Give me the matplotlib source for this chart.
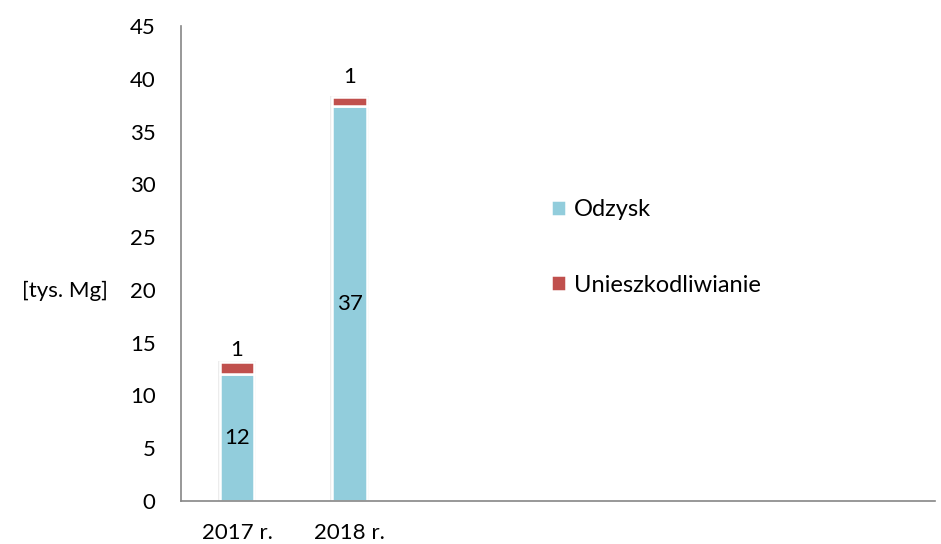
import numpy as np
import matplotlib.pyplot as plt

plt.rcParams['font.family'] = ['Lato', 'DejaVu Sans']

# dane
lata = ['2017 r.', '2018 r.']
odzysk = [12.0, 37.4]
unieszkodliwianie = [1.2, 0.9]
etykiety_odzysk = ['12', '37']
etykiety_unieszk = ['1', '1']

kolor_odzysk = '#92CDDC'
kolor_unieszk = '#C0504D'

fig = plt.figure(figsize=(9.41, 5.44), dpi=100)
ax = fig.add_axes([0.192, 0.079, 0.802, 0.873])

x = np.arange(len(lata))
w = 0.31
gora = np.array(odzysk) + np.array(unieszkodliwianie)
fs = 16

# delikatny cien wokol slupkow
ax.bar(x, gora + 0.1, w + 0.03, color='#ececec', zorder=1)
ax.bar(x, odzysk, w, color=kolor_odzysk, edgecolor='white', linewidth=1.8,
       label='Odzysk', zorder=2)
ax.bar(x, unieszkodliwianie, w, bottom=odzysk, color=kolor_unieszk,
       edgecolor='white', linewidth=1.8, label='Unieszkodliwianie', zorder=2)

for i in range(len(lata)):
    ax.text(x[i], odzysk[i] / 2, etykiety_odzysk[i], ha='center', va='center',
            fontsize=fs, zorder=3)
off = [1, 7]
for i in range(len(lata)):
    ax.annotate(etykiety_unieszk[i], (x[i], gora[i]), xytext=(0, off[i]),
                textcoords='offset points', ha='center', va='bottom', fontsize=fs)

ax.set_ylim(0, 45)
ax.set_yticks(np.arange(0, 46, 5))
ax.set_xlim(-0.5, 6.2)
ax.set_xticks(x)
ax.set_xticklabels(lata)
ax.tick_params(axis='both', length=0, labelsize=fs)
ax.tick_params(axis='y', pad=18)
ax.tick_params(axis='x', pad=16)

for s in ['top', 'right']:
    ax.spines[s].set_visible(False)
for s in ['left', 'bottom']:
    ax.spines[s].set_color('#868686')
    ax.spines[s].set_linewidth(1.2)

fig.text(0.069, 0.465, '[tys. Mg]', ha='center', va='center', fontsize=fs)

ax.legend(loc='upper left', bbox_to_anchor=(0.462, 0.68), frameon=False,
          fontsize=17, handlelength=0.65, handleheight=0.65, handletextpad=0.35,
          labelspacing=2.3)

fig.savefig('out.png', dpi=100)
